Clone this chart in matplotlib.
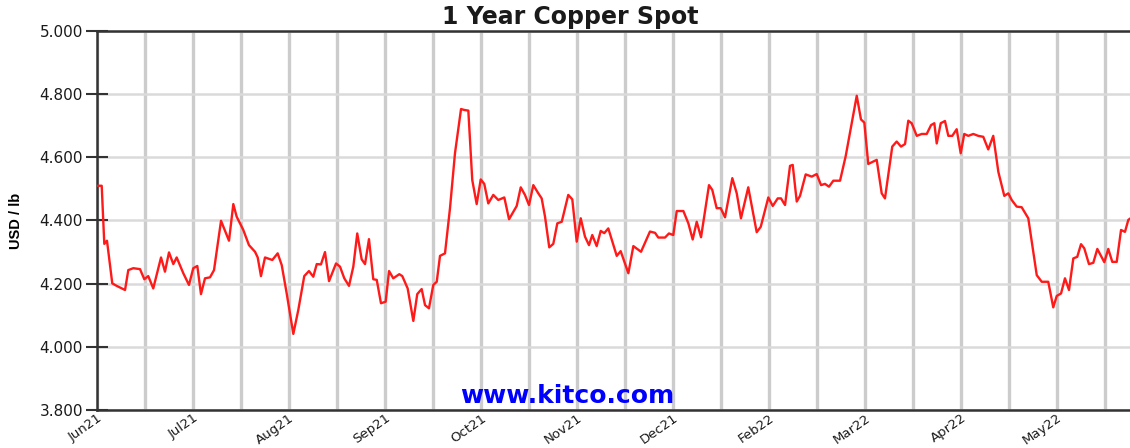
import matplotlib
matplotlib.use('Agg')
import matplotlib.pyplot as plt

# x position in months since Jun21 (one label per month, Jan22 is skipped on the axis)
months = [0.000, 0.049, 0.076, 0.104, 0.159, 0.205, 0.292, 0.326, 0.378, 0.448,
          0.493, 0.534, 0.586, 0.667, 0.708, 0.750, 0.795, 0.830, 0.899, 0.958,
          1.003, 1.045, 1.083, 1.125, 1.177, 1.219, 1.292, 1.375, 1.420, 1.455,
          1.524, 1.583, 1.646, 1.674, 1.708, 1.750, 1.826, 1.882, 1.924, 1.976,
          2.045, 2.097, 2.159, 2.208, 2.253, 2.289, 2.333, 2.375, 2.417, 2.490,
          2.531, 2.576, 2.625, 2.670, 2.711, 2.757, 2.792, 2.833, 2.878, 2.914,
          2.958, 3.007, 3.042, 3.086, 3.149, 3.180, 3.236, 3.295, 3.336, 3.382,
          3.417, 3.458, 3.503, 3.539, 3.573, 3.625, 3.677, 3.729, 3.792, 3.826,
          3.868, 3.909, 3.955, 3.997, 4.034, 4.076, 4.128, 4.180, 4.243, 4.292,
          4.372, 4.414, 4.458, 4.500, 4.545, 4.597, 4.632, 4.667, 4.711, 4.753,
          4.795, 4.841, 4.909, 4.951, 4.997, 5.039, 5.083, 5.125, 5.159, 5.205,
          5.247, 5.284, 5.326, 5.414, 5.455, 5.535, 5.587, 5.667, 5.760, 5.813,
          5.847, 5.917, 5.958, 6.003, 6.039, 6.108, 6.160, 6.205, 6.247, 6.292,
          6.375, 6.409, 6.455, 6.497, 6.542, 6.618, 6.664, 6.708, 6.784, 6.872,
          6.914, 6.993, 7.039, 7.091, 7.125, 7.167, 7.219, 7.247, 7.289, 7.323,
          7.382, 7.445, 7.497, 7.542, 7.583, 7.625, 7.670, 7.740, 7.799, 7.914,
          7.958, 7.993, 8.034, 8.080, 8.122, 8.174, 8.208, 8.284, 8.330, 8.375,
          8.417, 8.451, 8.486, 8.539, 8.591, 8.643, 8.688, 8.722, 8.747, 8.789,
          8.833, 8.868, 8.909, 8.955, 8.997, 9.034, 9.076, 9.128, 9.180, 9.232,
          9.284, 9.336, 9.389, 9.451, 9.493, 9.528, 9.580, 9.632, 9.701, 9.789,
          9.841, 9.909, 9.961, 9.997, 10.042, 10.083, 10.125, 10.170, 10.211, 10.250,
          10.284, 10.333, 10.378, 10.420, 10.493, 10.534, 10.576, 10.622, 10.667, 10.708,
          10.743, 10.780]

# copper spot, USD / lb
price = [4.510, 4.510, 4.326, 4.336, 4.201, 4.193, 4.180, 4.243, 4.249, 4.246,
         4.214, 4.224, 4.185, 4.283, 4.238, 4.299, 4.262, 4.283, 4.233, 4.196,
         4.249, 4.256, 4.167, 4.217, 4.220, 4.243, 4.399, 4.336, 4.452, 4.412,
         4.370, 4.322, 4.301, 4.283, 4.224, 4.283, 4.275, 4.296, 4.259, 4.169,
         4.041, 4.117, 4.224, 4.240, 4.222, 4.262, 4.261, 4.300, 4.208, 4.264,
         4.254, 4.217, 4.193, 4.254, 4.359, 4.277, 4.262, 4.341, 4.214, 4.212,
         4.138, 4.143, 4.240, 4.217, 4.230, 4.224, 4.185, 4.082, 4.167, 4.183,
         4.132, 4.122, 4.196, 4.206, 4.288, 4.296, 4.439, 4.613, 4.753, 4.750,
         4.748, 4.528, 4.452, 4.530, 4.516, 4.454, 4.481, 4.465, 4.473, 4.404,
         4.446, 4.505, 4.481, 4.449, 4.512, 4.486, 4.470, 4.412, 4.315, 4.326,
         4.391, 4.396, 4.481, 4.467, 4.333, 4.407, 4.349, 4.322, 4.354, 4.319,
         4.367, 4.360, 4.375, 4.288, 4.303, 4.233, 4.319, 4.301, 4.365, 4.361,
         4.346, 4.346, 4.359, 4.354, 4.430, 4.430, 4.391, 4.340, 4.396, 4.347,
         4.512, 4.497, 4.439, 4.439, 4.410, 4.534, 4.486, 4.407, 4.505, 4.363,
         4.380, 4.473, 4.446, 4.470, 4.470, 4.449, 4.573, 4.576, 4.460, 4.478,
         4.546, 4.539, 4.547, 4.512, 4.516, 4.507, 4.526, 4.526, 4.604, 4.795,
         4.720, 4.710, 4.579, 4.586, 4.592, 4.486, 4.470, 4.634, 4.650, 4.634,
         4.642, 4.716, 4.708, 4.668, 4.674, 4.674, 4.702, 4.708, 4.644, 4.708,
         4.715, 4.668, 4.668, 4.689, 4.613, 4.674, 4.668, 4.674, 4.668, 4.665,
         4.625, 4.668, 4.554, 4.478, 4.486, 4.465, 4.444, 4.442, 4.407, 4.227,
         4.206, 4.206, 4.125, 4.161, 4.169, 4.217, 4.180, 4.280, 4.285, 4.325,
         4.312, 4.262, 4.266, 4.310, 4.268, 4.310, 4.269, 4.269, 4.370, 4.364,
         4.402, 4.410]

tick_labels = ['Jun21', 'Jul21', 'Aug21', 'Sep21', 'Oct21', 'Nov21',
               'Dec21', 'Feb22', 'Mar22', 'Apr22', 'May22']
y_ticks = [3.8, 4.0, 4.2, 4.4, 4.6, 4.8, 5.0]

fig = plt.figure(figsize=(11.3, 4.48), dpi=100)
ax = fig.add_axes([97 / 1130, 38 / 448, 1 - 97 / 1130, 379 / 448])

# vertical grid every half month, horizontal every 0.2
for i in range(0, 22):
    ax.axvline(i * 0.5, color='#cccccc', lw=2.4, zorder=1)
for v in y_ticks:
    ax.axhline(v, color='#dadada', lw=1.8, zorder=1)

ax.plot(months, price, color='#ff1a1a', lw=1.7, zorder=3)

ax.set_xlim(0, 1033 / 96)
ax.set_ylim(3.8, 5.0)
ax.set_yticks(y_ticks)
ax.set_yticklabels([f'{v:.3f}' for v in y_ticks], fontsize=11, family='DejaVu Sans',
                   color='#1a1a1a')
ax.set_xticks(range(len(tick_labels)))
ax.set_xticklabels(tick_labels, rotation=35, ha='right', rotation_mode='anchor',
                   fontsize=9.5, family='DejaVu Sans', color='#1a1a1a')
ax.tick_params(axis='y', direction='inout', length=16, width=1.5, color='#333333', pad=2)
ax.tick_params(axis='x', length=0, pad=1)

for side in ['left', 'bottom', 'top']:
    ax.spines[side].set_color('#333333')
    ax.spines[side].set_linewidth(1.8)
ax.spines['right'].set_visible(False)

ax.set_ylabel('USD / lb', fontsize=10.5, family='Liberation Sans', fontweight='bold',
              labelpad=12)
fig.text(570 / 1130, 0.962, '1 Year Copper Spot', ha='center', va='center',
         fontsize=17, fontweight='bold', family='DejaVu Sans', color='#1a1a1a')
ax.text(4.9, 3.845, 'www.kitco.com', ha='center', va='center', fontsize=18,
        fontweight='bold', family='DejaVu Sans', color='#0000ff', zorder=4)

fig.savefig('out.png', dpi=100)
